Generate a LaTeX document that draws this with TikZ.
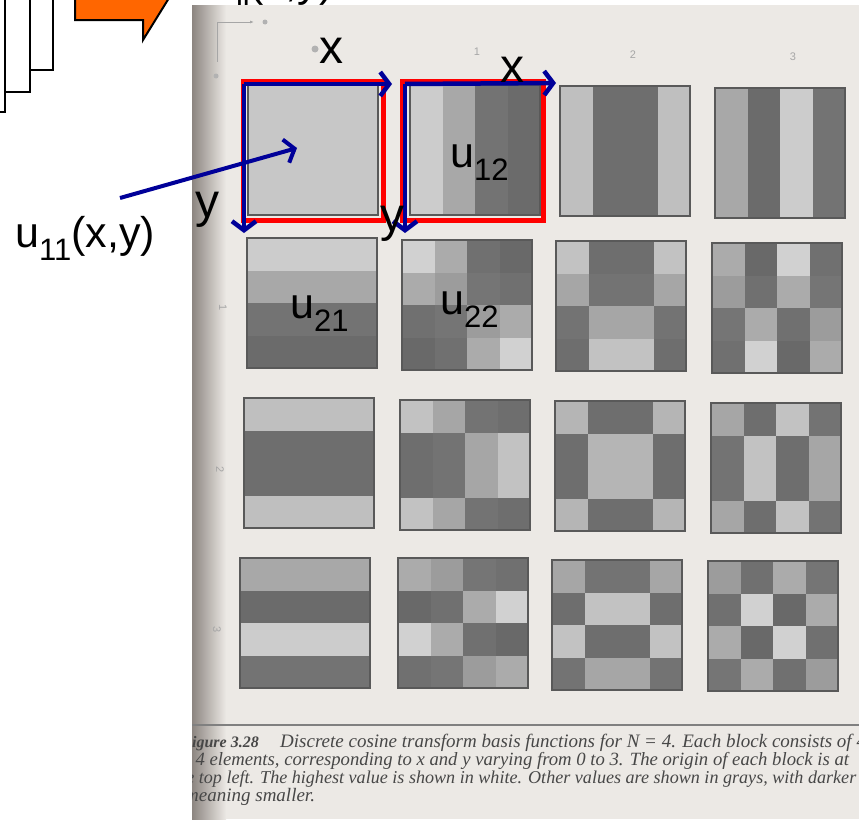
\documentclass[tikz,border=0pt]{standalone}
\usepackage{xcolor}
\usepackage{fontspec}
\setmainfont{Liberation Sans}
\newfontfamily\capfont{Liberation Serif}
\usepackage{tikz}
\usetikzlibrary{arrows.meta}

\definecolor{pagebg}{RGB}{236,233,229}
\definecolor{pageshadow}{RGB}{140,133,128}
\definecolor{axisblue}{RGB}{0,0,153}
\definecolor{arroworange}{RGB}{255,102,0}

\newcommand\lowsub[1]{\raisebox{-0.32em}{\fontsize{31}{32}\selectfont #1}}

\begin{document}
\begin{tikzpicture}[x=1pt,y=-1pt,
        sheet/.style={draw=black,line width=2pt,fill=white},
        blockline/.style={draw=black!65,line width=2pt},
        redbox/.style={draw=red,line width=5pt},
        axisarrow/.style={draw=axisblue,line width=4.5pt,-{Straight Barb[length=9pt,width=24pt]}},
        ulabel/.style={font=\fontsize{43}{46}\selectfont,anchor=base west,inner sep=0pt},
        axislabel/.style={font=\fontsize{48}{52}\selectfont,anchor=base,inner sep=0pt},
        captext/.style={font=\capfont\itshape\fontsize{#1}{20}\selectfont,text=black!72,anchor=base west,inner sep=0pt},
        captext/.default=19,
        scanmark/.style={text=black!35,font=\fontsize{11}{11}\selectfont,inner sep=0pt}]
        \useasboundingbox (0,0) rectangle (859,819);
        \clip (0,0) rectangle (859,819);
        \fill[white] (0,0) rectangle (859,819);

        % stacked pages and the orange arrow
        \draw[sheet] (-10,-10) rectangle (53,70);
        \draw[sheet] (-10,-10) rectangle (30,92);
        \draw[sheet] (-10,-10) rectangle (5,112);
        \draw[fill=arroworange,draw=black,line width=2pt] (75,-10) -- (75,20) -- (143,20) -- (143,40) -- (169,-2) -- (171,-10) -- cycle;
        \node[ulabel] (uij) at (212,-4) {u\lowsub{ij}(x,y)};

        % the scanned page
        \begin{scope}
        \clip (192,5) rectangle (859,819);
        \fill[pagebg] (192,5) rectangle (859,819);
        \shade[left color=pageshadow,right color=pagebg] (192,5) rectangle (226,819);

        \draw[black!35,line width=1pt,-{Latex[length=4pt]}] (217,22) -- (254,22);
        \fill[black!30] (265,22) circle (2.5);
        \draw[black!35,line width=1pt] (217,22) -- (217,62);
        \fill[black!30] (216,76) circle (2.5);
        \fill[black!30] (315,49) circle (3.5);
        \node[scanmark] (col1) at (477,52) {1};
        \node[scanmark] (col2) at (633,55) {2};
        \node[scanmark] (col3) at (793,57) {3};
        \node[scanmark,rotate=-90] (row1) at (223,308) {1};
        \node[scanmark,rotate=-90] (row2) at (220,470) {2};
        \node[scanmark,rotate=-90] (row3) at (217,630) {3};

        \foreach \r/\c/\bx/\by in {0/0/248/85, 0/1/410/85, 0/2/560/86, 0/3/715/88,
                1/0/247/238, 1/1/402/240, 1/2/556/241, 1/3/712/243,
                2/0/244/398, 2/1/400/400, 2/2/555/401, 2/3/711/403,
                3/0/240/558, 3/1/398/558, 3/2/552/560, 3/3/708/561}{
            \foreach \p in {0,...,3}{
                \foreach \q in {0,...,3}{
                    \pgfmathsetmacro\v{ifthenelse(\r==0,0.85,1)*ifthenelse(\c==0,0.85,1)*cos((2*\p+1)*\r*22.5)*cos((2*\q+1)*\c*22.5)}
                    \pgfmathtruncatemacro\k{ifthenelse(\v>=0,44-30*\v,54-6*\v)}
                    \fill[black!\k] (\bx+\q*32.5,\by+\p*32.5) rectangle ++(32.5,32.5);
                }
            }
            \draw[blockline] (\bx,\by) rectangle ++(130,130);
        }

        \draw[black!50,line width=1.5pt] (192,725) -- (859,725);
        \node[captext=16,anchor=base east] (cap1a) at (259,747) {\bfseries Figure 3.28};
        \node[captext] (cap1b) at (280,747) {Discrete cosine transform basis functions for N = 4. Each block consists of 4};
        \node[captext=18.7] (cap2) at (178,765) {× 4 elements, corresponding to x and y varying from 0 to 3. The origin of each block is at};
        \node[captext=18.1] (cap3) at (172,783) {the top left. The highest value is shown in white. Other values are shown in grays, with darker};
        \node[captext] (cap4) at (185,801) {meaning smaller.};
        \end{scope}

        % red frames and axes
        \draw[redbox] (243,81) rectangle (383,220);
        \draw[redbox] (402,81) rectangle (543,220);
        \coordinate (o11) at (244,84);
        \coordinate (o12) at (405,84);
        \draw[axisarrow] (o11) -- (392,84);
        \draw[axisarrow] (o11) -- (244,233);
        \draw[axisarrow] (o12) -- (556,83);
        \draw[axisarrow] (o12) -- (405,233);
        \node[axislabel] (x11) at (331,63) {x};
        \node[axislabel] (x12) at (512,82) {x};
        \node[axislabel] (y11) at (207,217) {y};
        \node[axislabel] (y12) at (392,231) {y};

        \node[ulabel] (u12) at (450,167) {u\lowsub{12}};
        \node[ulabel] (u21) at (290,318) {u\lowsub{21}};
        \node[ulabel] (u22) at (440,314) {u\lowsub{22}};
        \node[ulabel] (u11) at (15,247) {u\lowsub{11}(x,y)};
        \coordinate (u11from) at (120,198);
        \coordinate (u11to) at (297,148);
        \draw[axisarrow,line width=4pt] (u11from) -- (u11to);
\end{tikzpicture}
\end{document}
